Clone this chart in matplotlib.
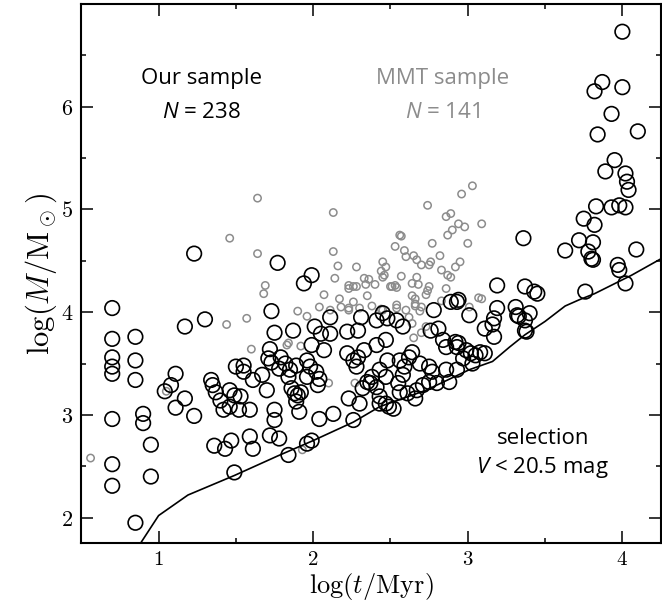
import matplotlib
matplotlib.use("Agg")
import matplotlib.pyplot as plt
import numpy as np

plt.rcParams['mathtext.fontset'] = 'cm'
plt.rcParams['font.family'] = ['Open Sans', 'DejaVu Sans']
plt.rcParams['mathtext.it'] = 'Open Sans:italic'
plt.rcParams['mathtext.rm'] = 'Open Sans'

# Our sample (black circles): log(t/Myr), log(M/Msun)
our_x = [0.70, 0.70, 0.85, 0.70, 0.85, 0.70, 0.70, 0.85, 0.70, 0.90, 0.90, 0.95, 0.70, 0.70, 0.95, 0.85,
         1.11, 1.08, 1.04, 1.17, 1.11, 1.23, 1.23, 1.17, 1.30, 1.34, 1.35, 1.37, 1.40, 1.42, 1.46, 1.49,
         1.46, 1.52, 1.59, 1.50, 1.55, 1.61, 1.67, 1.70, 1.73, 1.75, 1.75, 1.72, 1.36, 1.43, 1.47, 1.59,
         1.61, 1.49, 1.77, 1.73, 1.75, 1.72,
         1.99, 1.94, 2.11, 1.87, 2.01, 2.05, 2.11, 1.99, 2.07, 2.22, 2.29, 2.31, 2.41, 2.45, 2.41, 2.47,
         2.33, 2.22, 2.26, 2.28, 2.29, 1.71, 1.79, 1.82, 1.78, 1.85, 1.84, 1.89, 1.96, 1.98, 2.02, 2.04,
         2.03, 1.96, 1.86, 1.88, 1.90, 1.92, 1.89, 1.91, 1.55, 1.53, 1.78, 2.04, 2.13, 1.96, 1.99, 1.84,
         2.23, 2.30, 2.26, 2.32, 2.35, 2.38, 2.37, 2.41, 2.43, 2.47, 2.47, 2.43, 2.48, 2.48,
         3.19, 3.37, 2.78, 2.89, 2.93, 3.01, 3.19, 3.17, 3.31, 3.32, 3.37, 3.37, 3.11, 3.17, 2.76, 2.81,
         2.84, 2.92, 2.93, 2.86, 2.99, 3.02, 3.05, 3.08, 3.11, 3.03, 2.97, 2.86, 2.93, 2.75, 2.77, 2.75,
         2.71, 2.67, 2.66, 2.61, 2.56, 2.55, 2.88, 2.80, 2.58, 2.56, 2.62, 2.64, 2.69, 2.59, 2.58, 2.54,
         2.49, 2.52, 2.43,
         4.04, 3.83, 3.93, 3.98, 4.02, 3.75, 3.82, 3.36, 3.72, 3.81, 3.63, 3.78, 3.80, 3.81, 4.09, 3.97,
         3.98, 4.02, 3.76, 3.43, 3.45, 2.94, 3.33, 3.40, 3.38, 3.16, 2.94,
         4.00, 3.87, 3.82, 4.00, 3.93, 3.84, 4.10, 3.95, 3.89, 4.02, 4.03]
our_y = [4.04, 3.74, 3.76, 3.56, 3.53, 3.47, 3.40, 3.34, 2.96, 3.01, 2.92, 2.71, 2.52, 2.31, 2.40, 1.95,
         3.40, 3.29, 3.23, 3.16, 3.07, 2.99, 4.57, 3.86, 3.93, 3.34, 3.29, 3.22, 3.14, 3.05, 3.24, 3.19,
         3.08, 3.05, 3.05, 3.47, 3.42, 3.34, 3.39, 3.24, 3.51, 3.05, 2.95, 2.80, 2.70, 2.67, 2.75, 2.79,
         2.67, 2.44, 4.48, 4.01, 3.80, 3.64,
         4.36, 4.28, 3.95, 3.82, 3.86, 3.79, 3.79, 3.68, 3.63, 3.81, 3.82, 3.95, 3.92, 3.99, 3.68, 3.73,
         3.63, 3.60, 3.53, 3.47, 3.56, 3.55, 3.56, 3.50, 3.45, 3.44, 3.37, 3.48, 3.53, 3.47, 3.42, 3.35,
         3.29, 3.37, 3.26, 3.21, 3.19, 3.22, 3.13, 3.03, 3.48, 3.18, 2.77, 2.96, 3.01, 2.72, 2.75, 2.61,
         3.16, 3.11, 2.95, 3.26, 3.32, 3.37, 3.31, 3.27, 3.18, 3.11, 3.37, 3.44, 3.53, 3.94,
         4.26, 4.25, 4.02, 4.10, 4.10, 3.97, 4.04, 3.94, 4.05, 3.97, 3.92, 3.82, 3.84, 3.76, 3.82, 3.84,
         3.73, 3.71, 3.66, 3.66, 3.63, 3.60, 3.58, 3.61, 3.60, 3.50, 3.55, 3.44, 3.44, 3.47, 3.42, 3.32,
         3.29, 3.24, 3.16, 3.21, 3.22, 3.31, 3.32, 3.31, 3.39, 3.53, 3.56, 3.61, 3.50, 3.47, 3.86, 3.92,
         3.08, 3.06, 3.11,
         5.19, 5.03, 5.02, 5.04, 5.02, 4.91, 4.85, 4.72, 4.70, 4.68, 4.60, 4.59, 4.52, 4.51, 4.61, 4.46,
         4.41, 4.28, 4.20, 4.20, 4.18, 4.12, 3.96, 3.99, 3.81, 3.88, 3.70,
         6.73, 6.24, 6.15, 6.19, 5.93, 5.73, 5.76, 5.48, 5.37, 5.35, 5.27]

# MMT sample (grey circles)
mmt_x = [1.64, 1.46, 1.64, 1.69, 1.68, 1.57, 1.44, 1.60, 2.13, 2.96, 2.74, 2.86, 2.89, 2.94, 2.98, 2.90,
         2.87, 2.56, 2.57, 2.53, 2.59, 2.60, 2.77, 3.00, 2.82, 2.13, 2.16, 2.28, 2.45, 2.47, 2.67, 2.70,
         2.75, 2.76, 2.95, 2.92, 2.83, 2.14, 2.44, 2.46, 2.45, 2.57, 2.33, 2.36, 2.34, 2.40, 2.23, 2.26,
         2.23, 2.28, 2.50, 2.53, 2.54, 2.64, 2.67, 2.68, 2.75, 2.74, 2.86, 2.87, 2.89, 2.07, 2.17, 2.35,
         2.64, 2.66, 2.83, 2.04, 2.23, 2.30, 2.38, 2.54, 2.60, 2.66, 2.70, 1.90, 1.96, 2.18, 2.64, 2.73,
         3.01, 1.92, 1.84, 3.03, 3.09, 3.07, 3.09, 1.93, 2.10, 2.27, 2.26, 2.11, 2.23, 2.44, 1.83, 2.51,
         2.65, 2.73, 2.66, 2.62, 2.54, 2.45, 2.70, 2.65, 2.69, 0.56, 1.05]
mmt_y = [5.11, 4.72, 4.57, 4.26, 4.18, 3.94, 3.88, 3.64, 4.97, 5.15, 5.04, 4.93, 4.96, 4.86, 4.83, 4.80,
         4.75, 4.75, 4.74, 4.64, 4.60, 4.54, 4.67, 4.67, 4.55, 4.59, 4.45, 4.44, 4.49, 4.44, 4.51, 4.46,
         4.46, 4.49, 4.49, 4.44, 4.41, 4.33, 4.40, 4.36, 4.34, 4.35, 4.33, 4.32, 4.27, 4.27, 4.26, 4.25,
         4.23, 4.25, 4.25, 4.26, 4.24, 4.28, 4.34, 4.27, 4.25, 4.21, 4.23, 4.36, 4.34, 4.17, 4.13, 4.16,
         4.16, 4.13, 4.11, 4.05, 4.04, 4.04, 4.06, 4.07, 4.02, 4.06, 4.05, 4.01, 3.96, 4.05, 3.89, 3.86,
         4.05, 3.67, 3.70, 5.23, 4.86, 4.14, 4.13, 2.66, 3.31, 3.31, 4.10, 4.02, 4.02, 4.03, 3.68, 4.25,
         4.55, 4.17, 4.08, 3.95, 4.04, 4.02, 3.80, 3.75, 4.01, 2.58, 3.23]

# Selection limit V < 20.5 mag
sel_x = [0.87, 1.00, 1.19, 1.49, 1.77, 2.00, 2.26, 2.43, 2.73, 3.01, 3.16, 3.27, 3.37, 3.50, 3.63,
         3.72, 3.82, 4.06, 4.25]
sel_y = [1.72, 2.02, 2.22, 2.41, 2.60, 2.75, 2.93, 3.08, 3.24, 3.44, 3.52, 3.66, 3.78, 3.91, 4.06,
         4.12, 4.18, 4.36, 4.52]

fig = plt.figure(figsize=(6.62, 6.03), dpi=100)
ax = fig.add_axes([0.1228, 0.099, 0.8757, 0.8944])

grey = '#8c8c8c'
ax.scatter(mmt_x, mmt_y, s=28, facecolors='none', edgecolors=grey, linewidths=1.1, zorder=2)
ax.scatter(our_x, our_y, s=110, facecolors='none', edgecolors='black', linewidths=1.2, zorder=3)
ax.plot(sel_x, sel_y, color='black', lw=1.2, zorder=4)

ax.set_xlim(0.5, 4.25)
ax.set_ylim(1.75, 7.0)
ax.set_xticks([1, 2, 3, 4])
ax.set_xticks(np.arange(0.5, 4.26, 0.5), minor=True)
ax.set_yticks([2, 3, 4, 5, 6])
ax.set_yticks(np.arange(2.0, 7.01, 0.5), minor=True)
ax.set_xticklabels([r'$1$', r'$2$', r'$3$', r'$4$'])
ax.set_yticklabels([r'$2$', r'$3$', r'$4$', r'$5$', r'$6$'])
ax.tick_params(which='both', direction='in', top=True, right=True, width=1.1, labelsize=16)
ax.tick_params(axis='x', pad=4, labelsize=15)
ax.tick_params(axis='y', pad=6)
ax.tick_params(which='major', length=8.5)
ax.tick_params(which='minor', length=3.5)
for sp in ax.spines.values():
    sp.set_linewidth(1.5)

ax.set_xlabel(r'$\log(t/\mathrm{Myr})$', fontsize=19, labelpad=1)
ax.set_ylabel(r'$\log(M/\mathrm{M}_\odot)$', fontsize=22, labelpad=1)

kw = dict(transform=ax.transAxes, ha='center', va='center', fontsize=16, math_fontfamily='custom')
ax.text(0.2065, 0.861, 'Our sample', color='black', **kw)
ax.text(0.2065, 0.798, r'$N$ = 238', color='black', **kw)
ax.text(0.624, 0.861, 'MMT sample', color=grey, **kw)
ax.text(0.624, 0.798, r'$N$ = 141', color=grey, **kw)
ax.text(0.796, 0.195, 'selection', color='black', **kw)
ax.text(0.796, 0.140, r'$V$ < 20.5 mag', color='black', **kw)

fig.savefig('out.png', dpi=100)
